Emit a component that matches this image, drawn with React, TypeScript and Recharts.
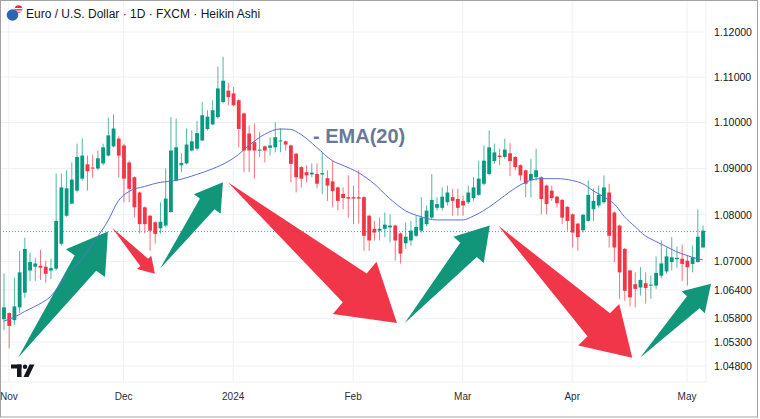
import React from 'react';
import { ComposedChart, Bar, Line, XAxis, YAxis, CartesianGrid, ReferenceLine } from 'recharts';

// ---- Heikin Ashi candles (EUR/USD daily, Oct 31 2023 -> May 6 2024) ----
const opens = [
  1.0578, 1.0591, 1.0576, 1.0603, 1.0634, 1.0681, 1.0689, 1.0691, 1.0689, 1.0681,
  1.0685, 1.0738, 1.0798, 1.0824, 1.0852, 1.0878, 1.0909, 1.0902, 1.0900, 1.0911,
  1.0928, 1.0948, 1.0965, 1.0950, 1.0913, 1.0881, 1.0848, 1.0816, 1.0798, 1.0784,
  1.0771, 1.0777, 1.0806, 1.0874, 1.0907, 1.0911, 1.0939, 1.0943, 1.0961, 1.0986,
  1.0996, 1.1012, 1.1045, 1.1070, 1.1064, 1.1049, 1.1020, 1.0976, 1.0957, 1.0939,
  1.0948, 1.0945, 1.0946, 1.0959, 1.0959, 1.0950, 1.0932, 1.0903, 1.0892, 1.0887,
  1.0888, 1.0887, 1.0879, 1.0872, 1.0859, 1.0845, 1.0838, 1.0838, 1.0838, 1.0838,
  1.0798, 1.0770, 1.0766, 1.0770, 1.0773, 1.0777, 1.0760, 1.0739, 1.0745, 1.0755,
  1.0766, 1.0780, 1.0794, 1.0815, 1.0815, 1.0827, 1.0838, 1.0834, 1.0830, 1.0827,
  1.0836, 1.0843, 1.0867, 1.0888, 1.0916, 1.0928, 1.0925, 1.0933, 1.0925, 1.0907,
  1.0896, 1.0875, 1.0881, 1.0881, 1.0863, 1.0852, 1.0839, 1.0832, 1.0817, 1.0801,
  1.0781, 1.0767, 1.0787, 1.0812, 1.0820, 1.0827, 1.0848, 1.0805, 1.0777, 1.0727,
  1.0681, 1.0652, 1.0645, 1.0654, 1.0649, 1.0649, 1.0670, 1.0679, 1.0699, 1.0705,
  1.0706, 1.0702, 1.0695, 1.0699, 1.0730,
];
const highs = [
  1.0675, 1.0592, 1.0666, 1.0723, 1.0751, 1.0719, 1.0708, 1.0725, 1.0702, 1.0706,
  1.0889, 1.0889, 1.0896, 1.0913, 1.0954, 1.0965, 1.0928, 1.0930, 1.0939, 1.0954,
  1.1011, 1.1018, 1.0970, 1.0954, 1.0917, 1.0883, 1.0850, 1.0818, 1.0800, 1.0786,
  1.0827, 1.0900, 1.1012, 1.1009, 1.0933, 1.0987, 1.0983, 1.1004, 1.1045, 1.1027,
  1.1049, 1.1123, 1.1145, 1.1087, 1.1078, 1.1051, 1.1022, 1.0994, 1.0998, 1.0979,
  1.0950, 1.0968, 1.1001, 1.0987, 1.0961, 1.0952, 1.0934, 1.0905, 1.0907, 1.0911,
  1.0911, 1.0935, 1.0896, 1.0917, 1.0861, 1.0859, 1.0885, 1.0863, 1.0896, 1.0840,
  1.0800, 1.0787, 1.0794, 1.0805, 1.0801, 1.0779, 1.0762, 1.0784, 1.0787, 1.0798,
  1.0838, 1.0820, 1.0888, 1.0838, 1.0859, 1.0863, 1.0856, 1.0856, 1.0841, 1.0863,
  1.0881, 1.0917, 1.0950, 1.0983, 1.0954, 1.0943, 1.0965, 1.0955, 1.0927, 1.0909,
  1.0898, 1.0921, 1.0943, 1.0883, 1.0865, 1.0863, 1.0841, 1.0834, 1.0819, 1.0803,
  1.0783, 1.0802, 1.0874, 1.0857, 1.0863, 1.0885, 1.0867, 1.0807, 1.0779, 1.0729,
  1.0683, 1.0677, 1.0688, 1.0677, 1.0670, 1.0711, 1.0745, 1.0730, 1.0752, 1.0732,
  1.0736, 1.0713, 1.0734, 1.0812, 1.0777,
];
const lows = [
  1.0555, 1.0517, 1.0566, 1.0591, 1.0623, 1.0659, 1.0659, 1.0661, 1.0655, 1.0663,
  1.0681, 1.0734, 1.0796, 1.0824, 1.0848, 1.0874, 1.0852, 1.0880, 1.0896, 1.0907,
  1.0926, 1.0946, 1.0880, 1.0827, 1.0827, 1.0794, 1.0760, 1.0760, 1.0723, 1.0738,
  1.0760, 1.0773, 1.0805, 1.0872, 1.0892, 1.0909, 1.0937, 1.0939, 1.0959, 1.0983,
  1.0994, 1.1009, 1.1042, 1.1038, 1.1036, 1.0946, 1.0892, 1.0892, 1.0878, 1.0925,
  1.0913, 1.0928, 1.0935, 1.0935, 1.0939, 1.0870, 1.0848, 1.0859, 1.0870, 1.0881,
  1.0857, 1.0845, 1.0830, 1.0816, 1.0809, 1.0812, 1.0794, 1.0780, 1.0781, 1.0723,
  1.0723, 1.0745, 1.0745, 1.0752, 1.0741, 1.0702, 1.0696, 1.0727, 1.0734, 1.0752,
  1.0762, 1.0775, 1.0791, 1.0809, 1.0809, 1.0820, 1.0798, 1.0798, 1.0798, 1.0823,
  1.0830, 1.0841, 1.0863, 1.0885, 1.0910, 1.0907, 1.0921, 1.0883, 1.0896, 1.0874,
  1.0838, 1.0838, 1.0874, 1.0801, 1.0801, 1.0830, 1.0816, 1.0780, 1.0766, 1.0730,
  1.0723, 1.0762, 1.0785, 1.0787, 1.0815, 1.0824, 1.0730, 1.0699, 1.0621, 1.0617,
  1.0605, 1.0603, 1.0628, 1.0611, 1.0621, 1.0642, 1.0664, 1.0674, 1.0681, 1.0687,
  1.0659, 1.0649, 1.0677, 1.0698, 1.0730,
];
const closes = [
  1.0603, 1.0564, 1.0605, 1.0677, 1.0727, 1.0699, 1.0696, 1.0687, 1.0674, 1.0686,
  1.0787, 1.0859, 1.0857, 1.0876, 1.0925, 1.0928, 1.0894, 1.0900, 1.0922, 1.0946,
  1.0972, 1.0987, 1.0928, 1.0878, 1.0856, 1.0816, 1.0780, 1.0780, 1.0766, 1.0759,
  1.0785, 1.0835, 1.0939, 1.0946, 1.0912, 1.0952, 1.0959, 1.0977, 1.1016, 1.1013,
  1.1027, 1.1075, 1.1092, 1.1056, 1.1038, 1.0986, 1.0939, 1.0939, 1.0939, 1.0941,
  1.0939, 1.0950, 1.0968, 1.0961, 1.0952, 1.0910, 1.0881, 1.0878, 1.0885, 1.0891,
  1.0867, 1.0890, 1.0863, 1.0851, 1.0830, 1.0836, 1.0835, 1.0835, 1.0835, 1.0755,
  1.0745, 1.0762, 1.0770, 1.0779, 1.0777, 1.0745, 1.0717, 1.0753, 1.0766, 1.0774,
  1.0794, 1.0809, 1.0832, 1.0823, 1.0839, 1.0848, 1.0830, 1.0815, 1.0820, 1.0848,
  1.0859, 1.0878, 1.0917, 1.0946, 1.0935, 1.0925, 1.0941, 1.0916, 1.0903, 1.0885,
  1.0867, 1.0888, 1.0896, 1.0834, 1.0823, 1.0836, 1.0825, 1.0794, 1.0787, 1.0762,
  1.0752, 1.0800, 1.0843, 1.0830, 1.0843, 1.0859, 1.0755, 1.0730, 1.0677, 1.0638,
  1.0624, 1.0642, 1.0661, 1.0644, 1.0651, 1.0676, 1.0696, 1.0711, 1.0709, 1.0708,
  1.0695, 1.0688, 1.0709, 1.0753, 1.0766,
];

// ---- EMA(20) readings (bar index -> value) ----
const emaIdx = [
  0, 2, 4, 6, 9, 12, 15, 18, 20, 22, 24, 27, 30, 33, 37, 40, 43, 45, 47, 50,
  53, 55, 57, 60, 63, 65, 68, 71, 74, 77, 80, 83, 86, 88, 90, 92, 94, 96, 98, 100,
  103, 106, 109, 111, 113, 115, 117, 119, 121, 123, 125, 127, 129, 131, 133, 134,
];
const emaVal = [
  1.0574, 1.0582, 1.0594, 1.0605, 1.0626, 1.0670, 1.0706, 1.0753, 1.0787, 1.0830,
  1.0850, 1.0861, 1.0870, 1.0874, 1.0887, 1.0899, 1.0915, 1.0930, 1.0950, 1.0974,
  1.0986, 1.0985, 1.0974, 1.0946, 1.0917, 1.0907, 1.0891, 1.0867, 1.0835, 1.0809,
  1.0796, 1.0789, 1.0789, 1.0789, 1.0797, 1.0809, 1.0824, 1.0841, 1.0857, 1.0870,
  1.0878, 1.0878, 1.0874, 1.0867, 1.0852, 1.0839, 1.0824, 1.0796, 1.0775, 1.0755,
  1.0743, 1.0732, 1.0721, 1.0713, 1.0706, 1.0704,
];

// ---- axes ----
const monthTickIdx = [1, 23, 44, 67, 88, 109, 131];
const monthLabels = ['Nov', 'Dec', '2024', 'Feb', 'Mar', 'Apr', 'May'];
const priceTicks = [1.048, 1.053, 1.058, 1.064, 1.07, 1.08, 1.09, 1.1, 1.11, 1.12];
const currentPrice = 1.0764;

// ---- annotation arrows (bar index, price) ----
const arrowFromIdx = [2.76, 20.8, 30.0, 43.0, 76.9, 94.8, 122.0];
const arrowFromPx = [1.0497, 1.0772, 1.0685, 1.087, 1.057, 1.0777, 1.0497];
const arrowToIdx = [20.0, 29.0, 42.05, 75.4, 93.2, 120.5, 135.6];
const arrowToPx = [1.0764, 1.0674, 1.087, 1.057, 1.0777, 1.0497, 1.0653];
const arrowUp = [true, false, true, false, true, false, true];

const GREEN = '#089981';
const RED = '#f23645';
const ARROW_GREEN = '#12967a';
const ARROW_RED = '#f2364a';
const BODY_W = 3.8;
const FONT = 'Liberation Sans, Arial, sans-serif';
const X_DOMAIN: [number, number] = [-0.69, 134.64];
const Y_DOMAIN: [number, number] = [1.04467, 1.12715];

const rows = opens.map((o, i) => {
  const k = emaIdx.indexOf(i);
  return { i, o, h: highs[i], l: lows[i], c: closes[i], ema: k >= 0 ? emaVal[k] : null };
});

const Candle = (props: any) => {
  const { x, y, width, height, payload } = props;
  if (!payload || y == null || height == null) return null;
  const { o, h, l, c } = payload;
  const col = c >= o ? GREEN : RED;
  const lh = Math.log(h);
  const ll = Math.log(l);
  const span = lh - ll || 1e-9;
  const py = (v: number) => y + (height * (lh - Math.log(v))) / span;
  const cx = x + width / 2;
  const top = py(Math.max(o, c));
  const bot = py(Math.min(o, c));
  return (
    <g>
      <line x1={cx} x2={cx} y1={y} y2={y + height} stroke={col} strokeOpacity={0.7} strokeWidth={1} />
      <rect x={cx - BODY_W / 2} y={top} width={BODY_W} height={Math.max(1, bot - top)} fill={col} />
    </g>
  );
};

const makeArrow = (color: string) => (props: any) => {
  const { x1, y1, x2, y2 } = props;
  if ([x1, y1, x2, y2].some((v) => v == null || isNaN(v))) return <g />;
  const dx = x2 - x1;
  const dy = y2 - y1;
  const L = Math.hypot(dx, dy);
  const ux = dx / L;
  const uy = dy / L;
  const nx = -uy;
  const ny = ux;
  const h = 0.25 * L;
  const w = 0.155 * L;
  const ws = 0.085 * L;
  const bx = x2 - ux * h;
  const by = y2 - uy * h;
  const pts = [
    [x1, y1],
    [bx + nx * ws, by + ny * ws],
    [bx + nx * w, by + ny * w],
    [x2, y2],
    [bx - nx * w, by - ny * w],
    [bx - nx * ws, by - ny * ws],
  ]
    .map((p) => `${p[0]},${p[1]}`)
    .join(' ');
  return <polygon points={pts} fill={color} />;
};

const renderAxes = (showTicks: boolean) => [
  <XAxis
    key="x"
    dataKey="i"
    type="number"
    domain={X_DOMAIN}
    allowDataOverflow
    ticks={monthTickIdx}
    interval={0}
    tickFormatter={(v: number) => monthLabels[monthTickIdx.indexOf(v)] ?? ''}
    height={37}
    axisLine={false}
    tickLine={false}
    tickMargin={5}
    tick={showTicks ? { fontSize: 10, fill: '#2a2e39', fontFamily: FONT } : false}
  />,
  <YAxis
    key="y"
    orientation="right"
    type="number"
    scale="log"
    domain={Y_DOMAIN}
    allowDataOverflow
    ticks={priceTicks}
    interval={0}
    tickFormatter={(v: number) => v.toFixed(5)}
    width={54}
    axisLine={false}
    tickLine={false}
    tick={showTicks ? { fontSize: 10.5, fill: '#131722', fontFamily: FONT } : false}
  />,
];

export default function App() {
  const margin = { top: 0, right: 0, bottom: 0, left: 0 };
  return (
    <div style={{ position: 'absolute', left: 0, top: 0, width: 760, height: 419, background: '#fff' }}>
      {/* bottom layer: grid, axes, drawn arrows */}
      <ComposedChart width={760} height={419} data={rows} margin={margin}>
        <CartesianGrid stroke="#eef0f4" />
        {renderAxes(true)}
        {arrowFromIdx.map((fx, k) => (
          <ReferenceLine
            key={`arrow-${k}`}
            segment={[
              { x: fx, y: arrowFromPx[k] },
              { x: arrowToIdx[k], y: arrowToPx[k] },
            ]}
            ifOverflow="visible"
            shape={makeArrow(arrowUp[k] ? ARROW_GREEN : ARROW_RED)}
          />
        ))}
      </ComposedChart>
      {/* top layer: price line, candles, EMA */}
      <div style={{ position: 'absolute', left: 0, top: 0 }}>
        <ComposedChart width={760} height={419} data={rows} margin={margin}>
          {renderAxes(false)}
          <ReferenceLine y={currentPrice} stroke={GREEN} strokeOpacity={0.8} strokeDasharray="1 2" ifOverflow="visible" />
          <Bar dataKey={(d: any) => [d.l, d.h]} barSize={4} shape={Candle} isAnimationActive={false} />
          <Line
            dataKey="ema"
            type="monotone"
            connectNulls
            dot={false}
            activeDot={false}
            stroke="#5b6fd6"
            strokeWidth={1}
            isAnimationActive={false}
          />
        </ComposedChart>
      </div>
      <svg
        width={760}
        height={419}
        style={{ position: 'absolute', left: 0, top: 0, pointerEvents: 'none' }}
      >
        <rect x={0.5} y={0.5} width={757} height={416.5} fill="none" stroke="#a3a3a3" />
        <circle cx={18.5} cy={9} r={3.8} fill="#d8333f" />
        <rect x={15} y={8} width={7} height={1.2} fill="#ffffff" />
        <rect x={15} y={10.5} width={7} height={1.2} fill="#ffffff" />
        <circle cx={12.5} cy={15} r={5.8} fill="#2f66b3" />
        <text x={26} y={18.3} fontSize={12} fill="#131722" fontFamily={FONT}>
          Euro / U.S. Dollar · 1D · FXCM · Heikin Ashi
        </text>
        <text x={313} y={143} fontSize={20} fontWeight="bold" fill="#6a7898" fontFamily={FONT}>
          - EMA(20)
        </text>
        <g fill="#131722">
          <rect x={11} y={364.5} width={10.5} height={4} />
          <rect x={17} y={364.5} width={4.5} height={12.5} />
          <circle cx={25} cy={366.8} r={2.2} />
          <polygon points="29.5,364.5 34.5,364.5 28.5,377 23.5,377" />
        </g>
      </svg>
    </div>
  );
}
